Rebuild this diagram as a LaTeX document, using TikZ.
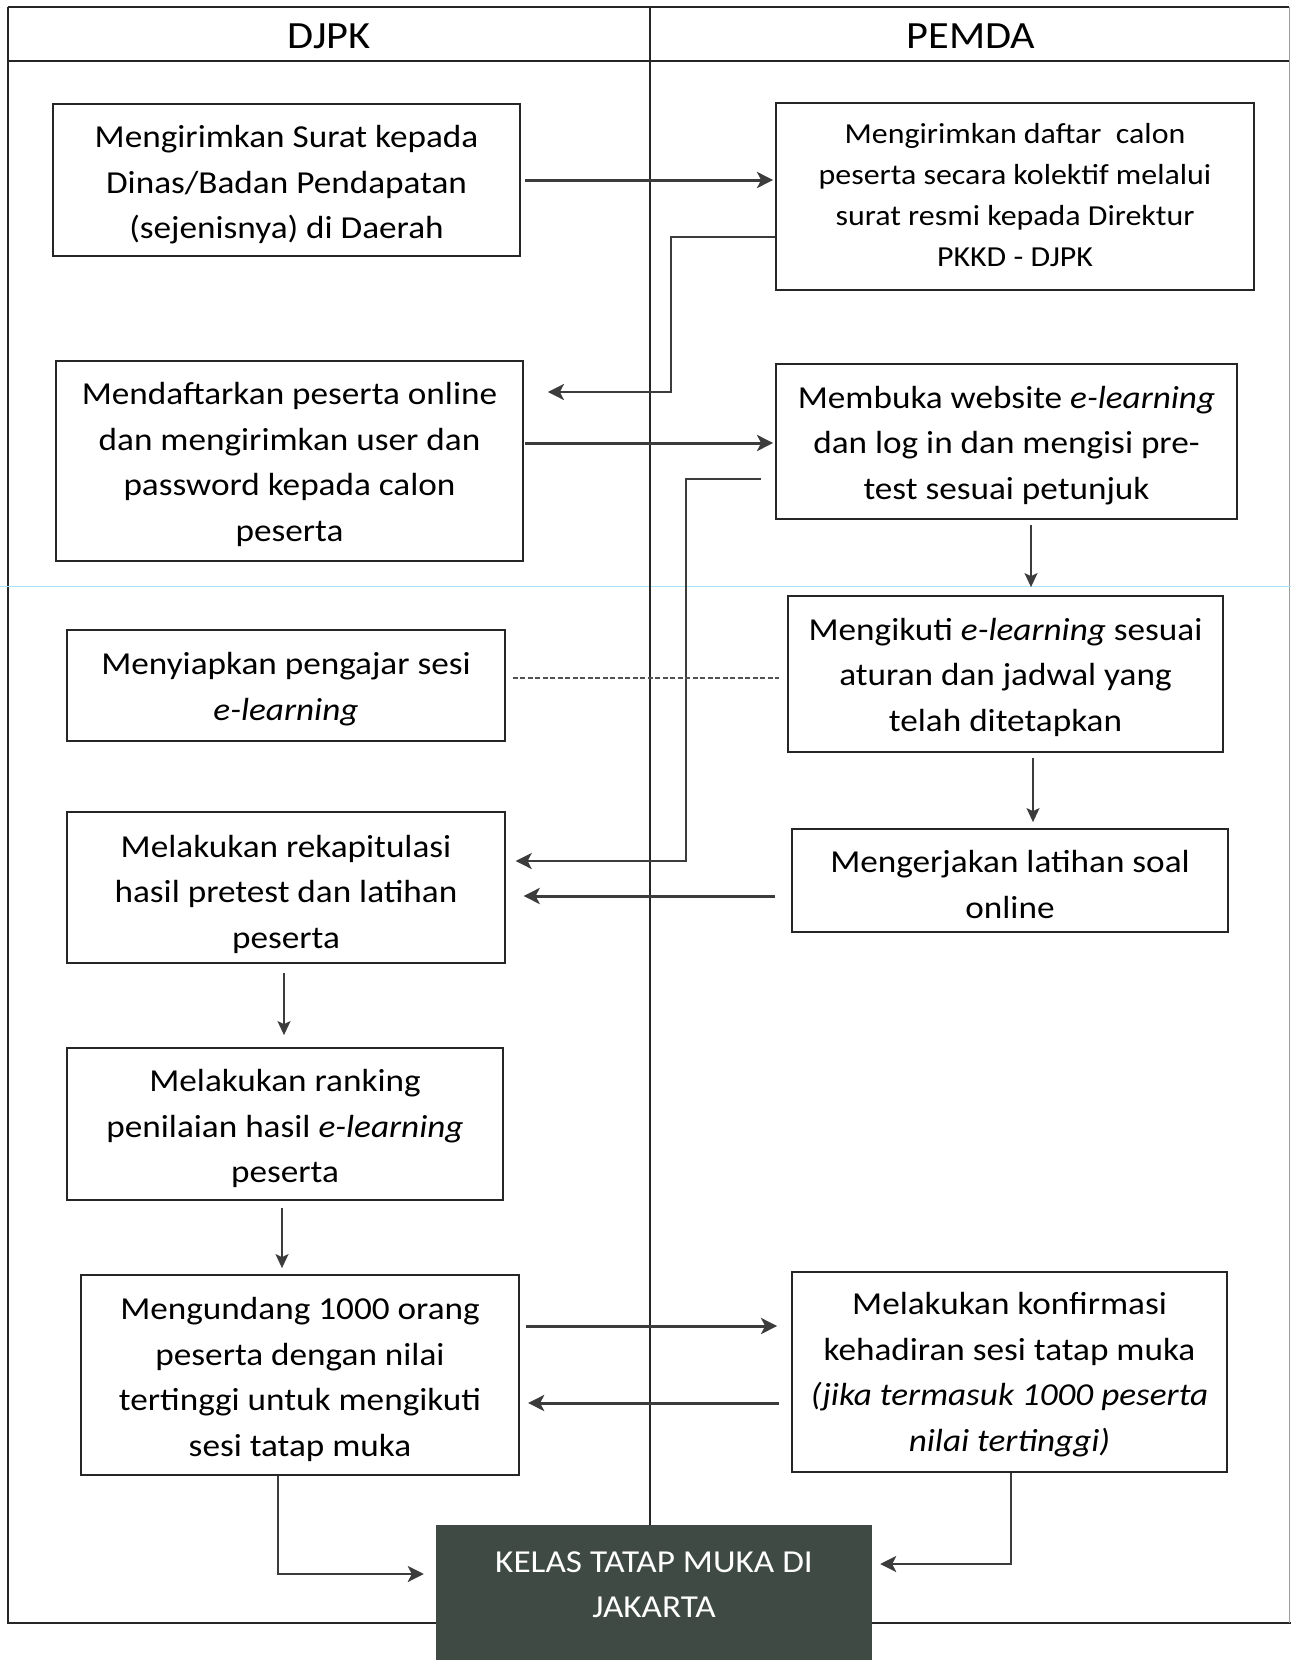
\documentclass[tikz,border=0pt]{standalone}
\usepackage{fontspec}
\setmainfont[FakeStretch=1.1]{Carlito}
\usetikzlibrary{arrows.meta}
\definecolor{ink}{HTML}{262626}
\definecolor{darkbox}{HTML}{3F4A45}
\newcommand{\bxt}[2][-4pt]{\raisebox{#1}[\height][\depth]{\begin{tabular}{@{}c@{}}#2\end{tabular}}}
\begin{document}
\begin{tikzpicture}[x=1pt,y=-1pt,
  box/.style={draw=ink, line width=1.8pt, fill=white, inner sep=0pt,
    font=\fontsize{32}{45.5}\selectfont},
  smallbox/.style={box, font=\fontsize{29}{41}\selectfont},
  darkk/.style={fill=darkbox, draw=none, inner sep=0pt, text=white,
    font=\fontsize{32}{45}\selectfont},
  hdr/.style={font=\fontsize{38.5}{42}\selectfont, inner sep=0pt, anchor=base},
  frame/.style={draw=ink, line width=1.4pt},
  lane/.style={draw=ink, line width=1.1pt},
  harr/.style={draw=ink!90, line width=3pt, -{Stealth[length=16pt,width=16pt,inset=4pt]}},
  elb/.style={draw=ink!90, line width=2.5pt, -{Stealth[length=16pt,width=16pt,inset=4pt]}},
  varr/.style={draw=ink!90, line width=1.6pt, -{Stealth[length=14pt,width=13pt,inset=3pt]}},
  dashline/.style={draw=ink!80, line width=1.5pt, dash pattern=on 5pt off 2.5pt},
]
\useasboundingbox (0,0) rectangle (1291,1660);
% frame
\draw[frame] (8,7) -- (1289,7);
\draw[frame] (8,61) -- (1289,61);
\draw[frame] (8,7) -- (8,1623) -- (436,1623);
\draw[frame] (871,1623) -- (1291,1623);
\draw[draw=ink!45, line width=1pt] (1289,7) -- (1289,1623);
\draw[draw=cyan!35, line width=0.8pt] (0,586) -- (1291,586);
% headers
\node[hdr] (h1) at (329,48.5) {DJPK};
\node[hdr] (h2) at (971,48.5) {PEMDA};
% boxes
\node[box, minimum width=467pt, minimum height=152pt] (A) at (286.5,180)
  {\bxt{Mengirimkan Surat kepada\\Dinas/Badan Pendapatan\\(sejenisnya) di Daerah}};
\node[smallbox, minimum width=478pt, minimum height=187pt] (B) at (1015,196.5)
  {\bxt[0pt]{Mengirimkan daftar\ \ calon\\peserta secara kolektif melalui\\surat resmi kepada Direktur\\PKKD - DJPK}};
\node[box, minimum width=467pt, minimum height=200pt] (C) at (289.5,461)
  {\bxt[-3pt]{Mendaftarkan peserta online\\dan mengirimkan user dan\\password kepada calon\\peserta}};
\node[box, minimum width=461pt, minimum height=155pt] (D) at (1006.5,441.5)
  {\bxt[-3pt]{Membuka website \textit{e-learning}\\dan log in dan mengisi pre-\\test sesuai petunjuk}};
\node[box, minimum width=437.5pt, minimum height=111pt] (Dp) at (286,685.5)
  {\bxt[-3pt]{Menyiapkan pengajar sesi\\\textit{e-learning}}};
\node[box, minimum width=435pt, minimum height=156pt] (E) at (1005.5,674)
  {\bxt[-2.5pt]{Mengikuti \textit{e-learning} sesuai\\aturan dan jadwal yang\\telah ditetapkan}};
\node[box, minimum width=437.5pt, minimum height=151pt] (F) at (286,887.5)
  {\bxt[-6pt]{Melakukan rekapitulasi\\hasil pretest dan latihan\\peserta}};
\node[box, minimum width=436pt, minimum height=103pt] (G) at (1010,880.5)
  {\bxt[-6pt]{Mengerjakan latihan soal\\online}};
\node[box, minimum width=436pt, minimum height=152pt] (H) at (285,1124)
  {\bxt{Melakukan ranking\\penilaian hasil \textit{e-learning}\\peserta}};
\node[box, minimum width=438.5pt, minimum height=200pt] (I) at (300,1375)
  {\bxt{Mengundang 1000 orang\\peserta dengan nilai\\tertinggi untuk mengikuti\\sesi tatap muka}};
\node[box, minimum width=435pt, minimum height=200pt] (J) at (1009.5,1372)
  {\bxt[-2pt]{Melakukan konfirmasi\\kehadiran sesi tatap muka\\\textit{(jika termasuk 1000 peserta}\\\textit{nilai tertinggi)}}};
\node[darkk, minimum width=436pt, minimum height=122pt] (K) at (654,1586)
  {\bxt[0pt]{KELAS TATAP MUKA DI\\JAKARTA}};
\fill[darkbox] ([yshift=0.5pt]K.south west) rectangle ([yshift=-20pt]K.south east);
% lane divider
\draw[lane] (650,7) -- (K.north -| 650,0);
% connectors
\draw[harr] ([xshift=4pt]A.east) -- ([xshift=-2pt]A.east -| B.west);
\coordinate (bcK) at (671,392);
\draw[elb] (B.west |- 0,237) -| (bcK) -- ([xshift=24pt]C.east |- bcK);
\draw[harr] ([xshift=1pt]C.east |- 0,443) -- ([xshift=-2pt]D.west |- 0,443);
\coordinate (dfK) at (686,861);
\draw[elb] ([xshift=-14pt]D.west |- 0,479) -| (dfK) -- ([xshift=10pt]F.east |- dfK);
\draw[varr] ([yshift=-5pt]D.south -| 1031,0) -- ([yshift=8pt]E.north -| 1031,0);
\draw[dashline] ([xshift=7pt]Dp.east |- 0,678) -- ([xshift=-8pt]E.west |- 0,678);
\draw[varr] ([yshift=-5pt]E.south -| 1033,0) -- ([yshift=6pt]G.north -| 1033,0);
\draw[harr] ([xshift=-16pt]G.west |- 0,896) -- ([xshift=18pt]F.east |- 0,896);
\draw[varr] ([yshift=-9pt]F.south -| 284,0) -- ([yshift=12pt]H.north -| 284,0);
\draw[varr] ([yshift=-7pt]H.south -| 282,0) -- ([yshift=6pt]I.north -| 282,0);
\draw[harr] ([xshift=6pt]I.east |- 0,1326) -- ([xshift=-14pt]J.west |- 0,1326);
\draw[harr] ([xshift=-12pt]J.west |- 0,1403) -- ([xshift=8pt]I.east |- 0,1403);
\draw[elb] (I.south -| 278,0) |- ([xshift=-12pt]K.west |- 0,1574);
\draw[elb] (J.south -| 1011,0) |- ([xshift=8pt]K.east |- 0,1564);
\end{tikzpicture}
\end{document}
